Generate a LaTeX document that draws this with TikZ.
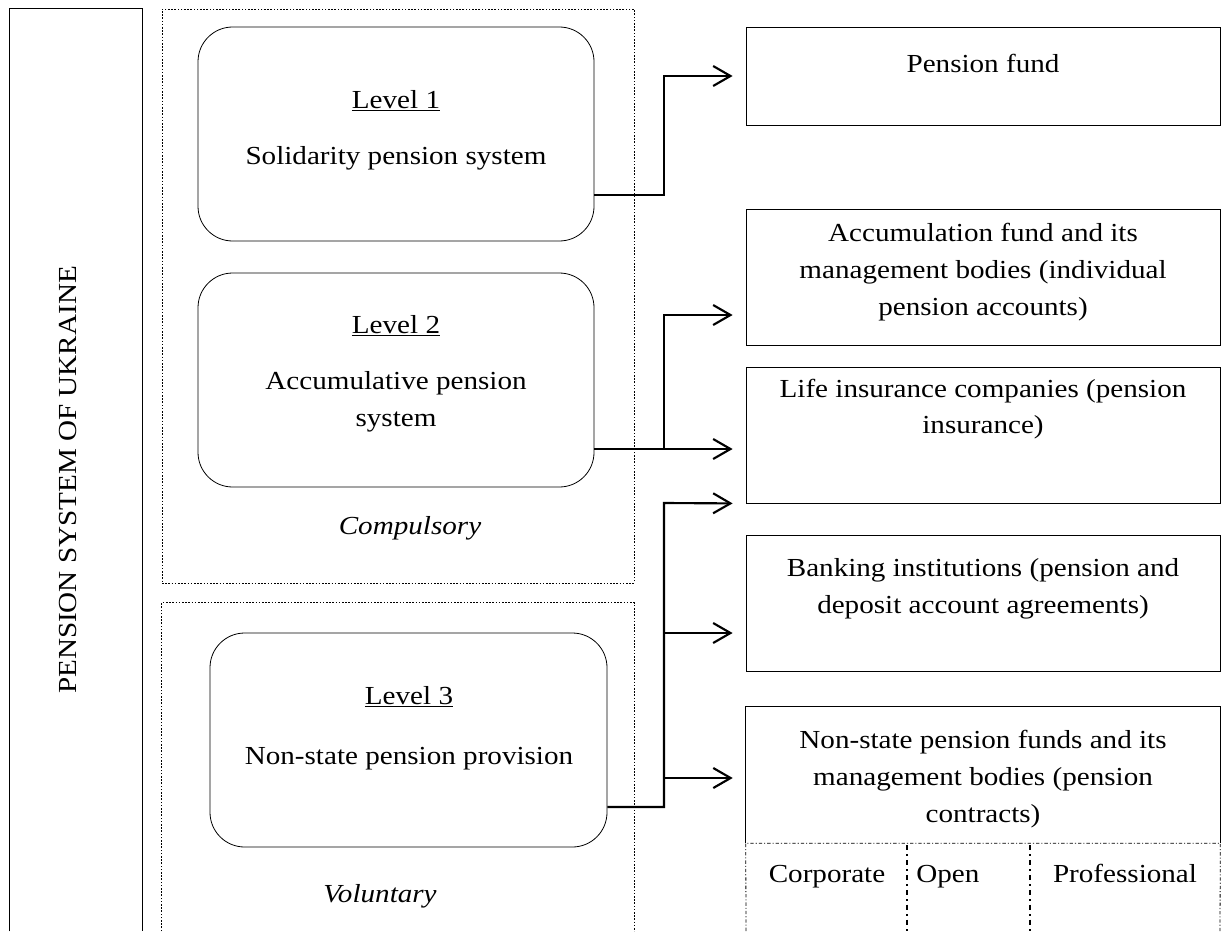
\documentclass[tikz,border=0pt]{standalone}
\usepackage{fontspec}
\setmainfont[FakeStretch=1.12]{Liberation Serif}
\usetikzlibrary{arrows.meta,fit}

\begin{document}
\begin{tikzpicture}[x=0.75pt,y=-0.75pt,
  every node/.style={font=\fontsize{19.5}{27.5}\selectfont, inner sep=0pt},
  frame/.style={draw, line width=0.6pt},
  rbox/.style={draw, line width=0.6pt, rounded corners=26pt},
  group/.style={line width=0.5pt, dash pattern=on 1.2pt off 1.2pt},
  link/.style={line width=1.6pt},
  arr/.style={link, -{Straight Barb[length=13pt,width=15pt]}},
  dd/.style={line width=0.6pt, dash pattern=on 2.5pt off 1.5pt on 0.8pt off 1.5pt},
  ddiv/.style={line width=1.1pt, dash pattern=on 4pt off 3pt on 1.2pt off 3pt},
  txt/.style={align=center}]

\useasboundingbox (0,0) rectangle (1226,931);
\fill[white] (0,0) rectangle (1226,931);

% outer column: the whole system
\node[fit={(10,9)(142,931)}] (sys) {};
\draw[line width=0.6pt] (sys.south west) -- (sys.north west) -- (sys.north east) -- (sys.south east);
\node[rotate=90] (systxt) at (68,480) {PENSION SYSTEM OF UKRAINE};

% compulsory and voluntary groups
\node[group, draw, fit={(162,9)(634,583)}] (comp) {};
\node[fit={(162,603)(634,931)}] (vol) {};
\draw[group] (vol.south west) -- (vol.north west) -- (vol.north east) -- (vol.south east);

% the three levels
\node[rbox, fit={(198,27)(594,241)}] (l1) {};
\node[rbox, fit={(198,273)(594,487)}] (l2) {};
\node[rbox, fit={(210,633)(607,847)}] (l3) {};

\node (l1h) at (396,101) {\underline{Level 1}};
\node (l1t) at (396,158) {Solidarity pension system};
\node (l2h) at (396,326) {\underline{Level 2}};
\node[txt] (l2t) at (396,402) {Accumulative pension\\system};
\node (comptxt) at (410,528) {\itshape Compulsory};
\node (l3h) at (409,697) {\underline{Level 3}};
\node (l3t) at (409,759) {Non-state pension provision};
\node (voltxt) at (380,896) {\itshape Voluntary};

% institutions
\node[frame, fit={(746,27)(1220,125)}] (pf) {};
\node[frame, fit={(746,209)(1220,345)}] (acc) {};
\node[frame, fit={(746,367)(1220,503)}] (life) {};
\node[frame, fit={(746,535)(1220,671)}] (bank) {};
\node[fit={(746,707)(1220,843)}] (npf) {};
\draw[line width=0.6pt] (npf.south west) -- (npf.north west) -- (npf.north east) -- (npf.south east);

\node (pft) at (983,63) {Pension fund};
\node[txt] (acct) at (983,272) {Accumulation fund and its\\management bodies (individual\\pension accounts)};
\node[txt] (lifet) at (983,409) {Life insurance companies (pension\\insurance)};
\node[txt] (bankt) at (983,589) {Banking institutions (pension and\\deposit account agreements)};
\node[txt] (npft) at (983,779) {Non-state pension funds and its\\management bodies (pension\\contracts)};

% kinds of non-state pension funds
\draw[dd] (746,931) -- (npf.south west) -- (npf.south east) -- (1220,931);
\coordinate (d1) at (907,845);
\coordinate (d2) at (1030,845);
\draw[ddiv] (d1) -- (907,931);
\draw[ddiv] (d2) -- (1030,931);
\node[anchor=base] (corp) at (827,882) {Corporate};
\node[anchor=base west] (open) at (916,882) {Open};
\node[anchor=base] (prof) at (1125,882) {Professional};

% connectors
\coordinate (b1) at (664,195);
\draw[arr] (l1.east |- b1) -- (b1) |- ([xshift=-9.75pt]pf.west);

\coordinate (b2) at (664,449);
\coordinate (b2t) at (664,315);
\draw[arr] (l2.east |- b2) -- ([xshift=-9.75pt]life.west |- b2);
\draw[arr] (b2) -- (b2t) -- ([xshift=-9.75pt]acc.west |- b2t);

\coordinate (b3) at (664,807);
\coordinate (b3t) at (664,503);
\coordinate (b3m) at (664,633);
\coordinate (b3n) at (664,778);
\draw[arr] (l3.east |- b3) -- (b3) -- (b3t) -- ([xshift=-9.75pt]life.south west);
\draw[arr] (b3m) -- ([xshift=-9.75pt]bank.west |- b3m);
\draw[arr] (b3n) -- ([xshift=-9.75pt]npf.west |- b3n);
\end{tikzpicture}
\end{document}
